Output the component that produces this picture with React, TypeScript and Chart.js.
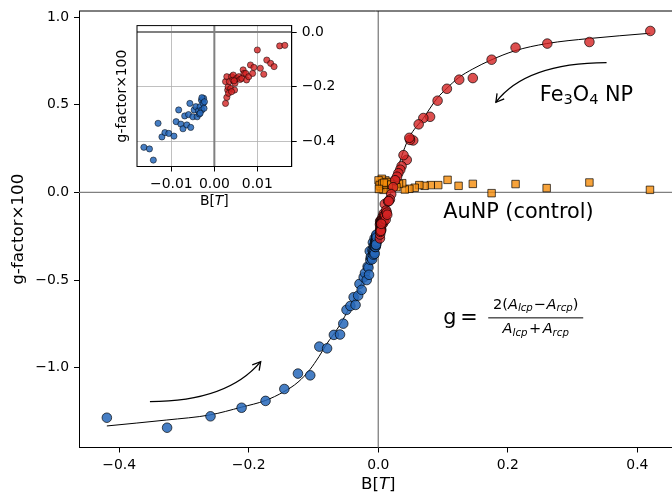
import React, { useEffect, useRef } from 'react';
import { Chart, registerables } from 'chart.js';

Chart.register(...registerables);

// ---------------- data (B [T], g-factor x100) ----------------
// Fe3O4 NP, positive field, beyond the inset range
const FE_POS_HIGH: [number, number][] = [
  [0.420, 0.922], [0.326, 0.859], [0.261, 0.850], [0.212, 0.827], [0.175, 0.758],
  [0.146, 0.653], [0.125, 0.644], [0.106, 0.592], [0.0916, 0.524], [0.080, 0.432],
  [0.0696, 0.425], [0.0624, 0.389], [0.054, 0.297], [0.049, 0.30], [0.048, 0.312],
  [0.044, 0.186], [0.039, 0.213], [0.036, 0.15], [0.034, 0.13], [0.031, 0.11],
  [0.029, 0.09], [0.026, 0.07], [0.023, 0.03], [0.020, -0.01], [0.018, -0.04],
];
// Fe3O4 NP, positive field, small-field region (also in inset)
const FE_POS_LOW: [number, number][] = [
  [0.0026, -0.262], [0.0029, -0.240], [0.0031, -0.213], [0.0026, -0.182], [0.0029, -0.164],
  [0.0032, -0.201], [0.0035, -0.182], [0.0038, -0.207], [0.0040, -0.164], [0.0043, -0.176],
  [0.0044, -0.158], [0.0047, -0.213], [0.0048, -0.188], [0.0052, -0.170], [0.0057, -0.164],
  [0.0060, -0.174], [0.0064, -0.170], [0.0067, -0.139], [0.0069, -0.152], [0.0073, -0.152],
  [0.0075, -0.176], [0.0080, -0.164], [0.0084, -0.121], [0.0089, -0.152], [0.0092, -0.130],
  [0.0100, -0.066], [0.0107, -0.133], [0.0115, -0.155], [0.0122, -0.103], [0.0131, -0.115],
  [0.0139, -0.127], [0.0152, -0.051], [0.0164, -0.049], [0.0033, -0.225], [0.0040, -0.219],
  [0.0046, -0.179],
];
// Fe3O4 NP, negative field, beyond the inset range
const FE_NEG_HIGH: [number, number][] = [
  [-0.419, -1.286], [-0.326, -1.343], [-0.259, -1.278], [-0.211, -1.229], [-0.174, -1.19],
  [-0.145, -1.122], [-0.124, -1.034], [-0.105, -1.044], [-0.091, -0.88], [-0.079, -0.89],
  [-0.0685, -0.813], [-0.059, -0.811], [-0.054, -0.749], [-0.049, -0.67], [-0.043, -0.648],
  [-0.038, -0.598], [-0.035, -0.642], [-0.031, -0.589], [-0.029, -0.522], [-0.0256, -0.556],
  [-0.0225, -0.484], [-0.0205, -0.46], [-0.0178, -0.50],
];
// Fe3O4 NP, negative field, small-field region (also in inset)
const FE_NEG_LOW: [number, number][] = [
  [-0.0164, -0.423], [-0.0151, -0.429], [-0.0142, -0.470], [-0.0131, -0.335], [-0.0122, -0.385],
  [-0.0115, -0.369], [-0.0106, -0.372], [-0.0094, -0.382], [-0.0089, -0.329], [-0.0083, -0.286],
  [-0.0078, -0.338], [-0.0073, -0.355], [-0.0069, -0.308], [-0.0064, -0.341], [-0.0060, -0.303],
  [-0.0057, -0.262], [-0.0055, -0.350], [-0.0050, -0.311], [-0.0047, -0.286], [-0.0043, -0.274],
  [-0.0040, -0.311], [-0.0037, -0.289], [-0.0035, -0.301], [-0.0033, -0.274], [-0.0030, -0.250],
  [-0.0029, -0.286], [-0.0026, -0.262], [-0.0025, -0.243], [-0.0024, -0.280], [-0.0029, -0.241],
  [-0.0023, -0.256], [-0.0033, -0.298],
];
// AuNP (control)
const AU_NP: [number, number][] = [
  [0.4195, 0.015], [0.326, 0.057], [0.260, 0.025], [0.212, 0.048], [0.175, -0.004],
  [0.146, 0.049], [0.124, 0.038], [0.107, 0.072], [0.0926, 0.042], [0.081, 0.042],
  [0.0716, 0.038], [0.0634, 0.042], [0.0563, 0.027], [0.048, 0.021], [0.041, 0.017],
  [0.037, 0.053], [0.032, 0.049], [0.0266, 0.069], [0.018, 0.059], [0.011, 0.069],
  [0.0056, 0.078], [0.003, 0.049], [0.004, 0.030], [0.0235, 0.034], [0.016, 0.021],
  [0.008, 0.015], [0.0005, 0.069], [0.002, 0.040], [0.006, 0.050], [0.012, 0.045],
  [0.014, 0.060], [0.009, 0.055], [0.020, 0.045], [0.028, 0.030], [0.001, 0.020],
];
// fitted curve
const FIT_CURVE: [number, number][] = [
  [-0.419, -1.333], [-0.3265, -1.299], [-0.2597, -1.270], [-0.2114, -1.226], [-0.1744, -1.188],
  [-0.1455, -1.137], [-0.1239, -1.083], [-0.1059, -1.013], [-0.0915, -0.937], [-0.0796, -0.865],
  [-0.0602, -0.762], [-0.0437, -0.652], [-0.0282, -0.538], [-0.0154, -0.424], [-0.0051, -0.309],
  [0.0015, -0.214], [0.010, -0.11], [0.020, 0.01], [0.030, 0.135], [0.0386, 0.233],
  [0.0478, 0.315], [0.0694, 0.423], [0.091, 0.538], [0.106, 0.595], [0.124, 0.655],
  [0.146, 0.705], [0.174, 0.756], [0.211, 0.809], [0.260, 0.850], [0.326, 0.879], [0.420, 0.909],
];

const X_TICKS = [-0.4, -0.2, 0, 0.2, 0.4];
const X_TICK_LABELS = ['\u22120.4', '\u22120.2', '0.0', '0.2', '0.4'];
const Y_TICKS = [-1.0, -0.5, 0, 0.5, 1.0];
const Y_TICK_LABELS = ['\u22121.0', '\u22120.5', '0.0', '0.5', '1.0'];
const INSET_X_TICKS = [-0.01, 0, 0.01];
const INSET_X_TICK_LABELS = ['\u22120.01', '0.00', '0.01'];
const INSET_Y_TICKS = [-0.4, -0.2, 0];
const INSET_Y_TICK_LABELS = ['\u22120.4', '\u22120.2', '0.0'];

const X_RANGE = [-0.462, 0.4535];
const Y_RANGE = [-1.456, 1.036];
const INSET_X_RANGE = [-0.018, 0.018];
const INSET_Y_RANGE = [-0.4935, 0.0235];

// ---------------- styles ----------------
const FAMILY = '"DejaVu Sans"';
const BLUE = 'rgba(38,103,186,0.85)';
const RED = 'rgba(212,35,35,0.8)';
const ORANGE = 'rgba(245,140,10,0.8)';
const EDGE = 'rgba(0,0,0,0.85)';

const pts = (a: [number, number][]) => a.map(([x, y]) => ({ x, y }));
const font = (size: number, italic = false) => `${italic ? 'italic ' : ''}${size}px ${FAMILY}`;

type Run = { t: string; size: number; italic?: boolean; dy?: number; pad?: number };
function drawRuns(ctx: CanvasRenderingContext2D, runs: Run[], x: number, y: number, align: 'left' | 'center') {
  const widths = runs.map((r) => {
    ctx.font = font(r.size, r.italic);
    return ctx.measureText(r.t).width + 2 * (r.pad || 0);
  });
  const total = widths.reduce((s, w) => s + w, 0);
  let cx = align === 'center' ? x - total / 2 : x;
  ctx.textAlign = 'left';
  ctx.textBaseline = 'alphabetic';
  runs.forEach((r, i) => {
    ctx.font = font(r.size, r.italic);
    ctx.fillText(r.t, cx + (r.pad || 0), y + (r.dy || 0));
    cx += widths[i];
  });
  return total;
}

function drawArrow(ctx: CanvasRenderingContext2D, p1: number[], c: number[], p2: number[]) {
  ctx.beginPath();
  ctx.moveTo(p1[0], p1[1]);
  ctx.quadraticCurveTo(c[0], c[1], p2[0], p2[1]);
  ctx.stroke();
  const ang = Math.atan2(p2[1] - c[1], p2[0] - c[0]);
  const L = 9, s = Math.PI / 6;
  ctx.beginPath();
  ctx.moveTo(p2[0] - L * Math.cos(ang - s), p2[1] - L * Math.sin(ang - s));
  ctx.lineTo(p2[0], p2[1]);
  ctx.lineTo(p2[0] - L * Math.cos(ang + s), p2[1] - L * Math.sin(ang + s));
  ctx.stroke();
}

const mainDecor = {
  id: 'mainDecor',
  beforeDatasetsDraw(chart: any) {
    const { ctx, chartArea: a, scales } = chart;
    const x0 = scales.x.getPixelForValue(0);
    const y0 = scales.y.getPixelForValue(0);
    ctx.save();
    ctx.strokeStyle = '#808080';
    ctx.lineWidth = 1.3;
    ctx.beginPath();
    ctx.moveTo(x0, a.top);
    ctx.lineTo(x0, a.bottom);
    ctx.moveTo(a.left, y0);
    ctx.lineTo(a.right, y0);
    ctx.stroke();
    ctx.restore();
  },
  afterDraw(chart: any) {
    const { ctx, chartArea: a, scales } = chart;
    const X = (v: number) => scales.x.getPixelForValue(v);
    const Y = (v: number) => scales.y.getPixelForValue(v);
    ctx.save();
    // top spine
    ctx.strokeStyle = 'black';
    ctx.lineWidth = 1;
    ctx.beginPath();
    ctx.moveTo(a.left, a.top);
    ctx.lineTo(a.right, a.top);
    ctx.stroke();
    // arrows
    ctx.lineWidth = 1.3;
    drawArrow(ctx, [X(0.3525), Y(0.741)], [X(0.228), Y(0.739)], [X(0.1816), Y(0.515)]);
    drawArrow(ctx, [X(-0.3525), Y(-1.194)], [X(-0.2329), Y(-1.194)], [X(-0.1815), Y(-0.966)]);
    ctx.fillStyle = 'black';
    // Fe3O4 NP label
    drawRuns(ctx, [
      { t: 'Fe', size: 20.8 },
      { t: '3', size: 14.6, dy: 3.5 },
      { t: 'O', size: 20.8 },
      { t: '4', size: 14.6, dy: 3.5 },
      { t: ' NP', size: 20.8 },
    ], X(0.2495), Y(0.524), 'left');
    // AuNP label
    drawRuns(ctx, [{ t: 'AuNP (control)', size: 20.8 }], X(0.1003), Y(-0.147), 'left');
    // formula
    const gx = X(0.1003), gy = Y(-0.753);
    drawRuns(ctx, [{ t: 'g', size: 20.8 }], gx, gy, 'left');
    drawRuns(ctx, [{ t: '=', size: 20.8 }], gx + 17, gy, 'left');
    const barL = gx + 45, barR = gx + 140, barY = gy - 6.5;
    ctx.lineWidth = 1;
    ctx.beginPath();
    ctx.moveTo(barL, barY);
    ctx.lineTo(barR, barY);
    ctx.stroke();
    const mid = (barL + barR) / 2;
    drawRuns(ctx, [
      { t: '2', size: 14.56 },
      { t: '(', size: 14.56 },
      { t: 'A', size: 14.56, italic: true },
      { t: 'lcp', size: 10.2, italic: true, dy: 2.5 },
      { t: '\u2212', size: 14.56, pad: 0.8 },
      { t: 'A', size: 14.56, italic: true },
      { t: 'rcp', size: 10.2, italic: true, dy: 2.5 },
      { t: ')', size: 14.56 },
    ], mid, gy - 15.5, 'center');
    drawRuns(ctx, [
      { t: 'A', size: 14.56, italic: true },
      { t: 'lcp', size: 10.2, italic: true, dy: 2.5 },
      { t: '+', size: 14.56, pad: 1.5 },
      { t: 'A', size: 14.56, italic: true },
      { t: 'rcp', size: 10.2, italic: true, dy: 2.5 },
    ], mid, gy + 8.8, 'center');
    // axis titles
    drawRuns(ctx, [
      { t: 'B[', size: 16.67 },
      { t: 'T', size: 16.67, italic: true },
      { t: ']', size: 16.67 },
    ], X(0), 489, 'center');
    ctx.translate(19, (a.top + a.bottom) / 2);
    ctx.rotate(-Math.PI / 2);
    ctx.font = font(16.67);
    ctx.textAlign = 'center';
    ctx.textBaseline = 'middle';
    ctx.fillText('g-factor\u00d7100', 0, 0);
    ctx.restore();
  },
};

const insetDecor = {
  id: 'insetDecor',
  beforeDraw(chart: any) {
    const { ctx, chartArea: a } = chart;
    ctx.save();
    ctx.fillStyle = 'white';
    ctx.fillRect(a.left, a.top, a.right - a.left, a.bottom - a.top);
    ctx.restore();
  },
  beforeDatasetsDraw(chart: any) {
    const { ctx, chartArea: a, scales } = chart;
    const x0 = scales.x.getPixelForValue(0);
    const y0 = scales.y.getPixelForValue(0);
    ctx.save();
    ctx.strokeStyle = '#808080';
    ctx.lineWidth = 2;
    ctx.beginPath();
    ctx.moveTo(x0, a.top);
    ctx.lineTo(x0, a.bottom);
    ctx.moveTo(a.left, y0);
    ctx.lineTo(a.right, y0);
    ctx.stroke();
    ctx.restore();
  },
  afterDraw(chart: any) {
    const { ctx, chartArea: a } = chart;
    ctx.save();
    ctx.strokeStyle = 'black';
    ctx.lineWidth = 1;
    ctx.strokeRect(a.left, a.top, a.right - a.left, a.bottom - a.top);
    ctx.fillStyle = 'black';
    drawRuns(ctx, [
      { t: 'B[', size: 13.9 },
      { t: 'T', size: 13.9, italic: true },
      { t: ']', size: 13.9 },
    ], (a.left + a.right) / 2, 190, 'center');
    ctx.translate(22.5, (a.top + a.bottom) / 2);
    ctx.rotate(-Math.PI / 2);
    ctx.font = font(13.9);
    ctx.textAlign = 'center';
    ctx.textBaseline = 'middle';
    ctx.fillText('g-factor\u00d7100', 0, 0);
    ctx.restore();
  },
};

function axisOpts(ticks: number[], labels: string[], range: number[], size: { w?: number; h?: number }, extra: any) {
  return {
    type: 'linear',
    min: range[0],
    max: range[1],
    afterBuildTicks: (s: any) => {
      s.ticks = ticks.map((v) => ({ value: v }));
    },
    afterFit: (s: any) => {
      if (size.h !== undefined) s.height = size.h;
      if (size.w !== undefined) s.width = size.w;
      s.paddingLeft = 0;
      s.paddingRight = 0;
      s.paddingTop = 0;
      s.paddingBottom = 0;
    },
    ticks: {
      callback: (_v: any, i: number) => labels[i],
      color: 'black',
      font: { family: 'DejaVu Sans', size: 13.9 },
      padding: 5,
      maxRotation: 0,
      autoSkip: false,
    },
    border: { display: true, color: 'black', width: 1 },
    ...extra,
  };
}

export default function App() {
  const mainRef = useRef<HTMLCanvasElement>(null);
  const insetRef = useRef<HTMLCanvasElement>(null);

  useEffect(() => {
    document.body.style.margin = '0';
    const main = new Chart(mainRef.current!, {
      type: 'scatter',
      data: {
        datasets: [
          {
            data: pts([...FE_POS_HIGH, ...FE_POS_LOW]),
            backgroundColor: RED, borderColor: EDGE, borderWidth: 0.8, pointRadius: 4.8, order: 1,
          },
          {
            data: pts([...FE_NEG_HIGH, ...FE_NEG_LOW]),
            backgroundColor: BLUE, borderColor: EDGE, borderWidth: 0.8, pointRadius: 4.8, order: 2,
          },
          {
            data: pts(AU_NP), pointStyle: 'rect',
            backgroundColor: ORANGE, borderColor: EDGE, borderWidth: 0.8, pointRadius: 5.3, order: 3,
          },
          {
            data: pts(FIT_CURVE), showLine: true, pointRadius: 0, borderColor: 'black',
            borderWidth: 1, cubicInterpolationMode: 'monotone', order: 4,
          },
        ] as any,
      },
      options: {
        animation: false,
        responsive: false,
        devicePixelRatio: 1,
        events: [],
        layout: { autoPadding: false, padding: { top: 11, left: 0, right: 0, bottom: 0 } },
        plugins: { legend: { display: false }, tooltip: { enabled: false } },
        scales: {
          x: axisOpts(X_TICKS, X_TICK_LABELS, X_RANGE, { h: 44.5 }, {
            grid: { display: true, drawOnChartArea: false, drawTicks: true, tickLength: 5, color: 'black', tickColor: 'black' },
          }),
          y: axisOpts(Y_TICKS, Y_TICK_LABELS, Y_RANGE, { w: 79 }, {
            grid: { display: true, drawOnChartArea: false, drawTicks: true, tickLength: 5, color: 'black', tickColor: 'black' },
          }),
        } as any,
      },
      plugins: [mainDecor],
    });

    const inset = new Chart(insetRef.current!, {
      type: 'scatter',
      data: {
        datasets: [
          {
            data: pts(FE_POS_LOW),
            backgroundColor: RED, borderColor: EDGE, borderWidth: 0.6, pointRadius: 3.1, order: 1,
          },
          {
            data: pts(FE_NEG_LOW),
            backgroundColor: BLUE, borderColor: EDGE, borderWidth: 0.6, pointRadius: 3.1, order: 2,
          },
        ] as any,
      },
      options: {
        animation: false,
        responsive: false,
        devicePixelRatio: 1,
        events: [],
        layout: { autoPadding: false, padding: { top: 10.6, left: 37, right: 0, bottom: 0 } },
        plugins: { legend: { display: false }, tooltip: { enabled: false } },
        scales: {
          x: axisOpts(INSET_X_TICKS, INSET_X_TICK_LABELS, INSET_X_RANGE, { h: 48.5 }, {
            grid: { display: true, drawOnChartArea: true, drawTicks: true, tickLength: 5, color: '#b0b0b0', lineWidth: 0.8, tickColor: 'black', tickWidth: 1 },
          }),
          y: axisOpts(INSET_Y_TICKS, INSET_Y_TICK_LABELS, INSET_Y_RANGE, { w: 48.3 }, {
            position: 'right',
            grid: { display: true, drawOnChartArea: true, drawTicks: true, tickLength: 5, color: '#b0b0b0', lineWidth: 0.8, tickColor: 'black', tickWidth: 1 },
          }),
        } as any,
      },
      plugins: [insetDecor],
    });

    return () => {
      main.destroy();
      inset.destroy();
    };
  }, []);

  return (
    <div style={{ position: 'relative', width: 672, height: 492, background: 'white' }}>
      <canvas ref={mainRef} width={672} height={492} style={{ position: 'absolute', left: 0, top: 0, display: 'block' }} />
      <canvas ref={insetRef} width={240} height={200} style={{ position: 'absolute', left: 100, top: 15, display: 'block' }} />
    </div>
  );
}
